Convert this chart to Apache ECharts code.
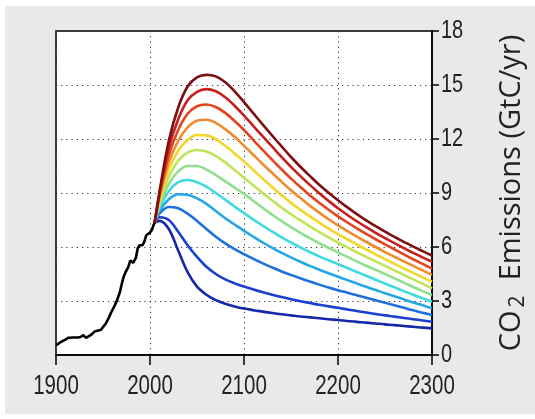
<!DOCTYPE html>
<html>
<head>
<meta charset="utf-8">
<script src="https://cdn.jsdelivr.net/npm/echarts@6/dist/echarts.min.js"></script>
<style>
html,body{margin:0;padding:0;background:#ffffff;width:535px;height:419px;overflow:hidden;}
#chart{position:absolute;left:5px;top:6px;width:530px;height:408px;}
</style>
</head>
<body>
<div id="chart"></div>
<script>
// Historical emissions
const histYears = [1900,1903,1906,1910,1913,1915,1918,1920,1923,1926,1929,1932,1935,1938,1941,1944,1946,1948,1950,1953,1956,1959,1962,1965,1968,1970,1972,1974,1975,1977,1979,1980,1982,1983,1985,1987,1989,1990,1992,1994,1996,1998,2000,2002,2004,2005];
const histValues = [0.55,0.65,0.75,0.85,0.95,0.88,0.97,0.92,0.97,1.0,1.1,0.95,1.05,1.15,1.3,1.35,1.25,1.4,1.55,1.75,2.05,2.4,2.7,3.05,3.5,3.95,4.35,4.6,4.55,4.9,5.25,5.28,5.12,5.15,5.4,5.95,6.1,6.15,6.1,6.3,6.65,6.7,6.8,6.95,7.25,7.35];

// Scenario pathways (2005, then every decade 2010-2300)
const scenYears = [2005,2010,2020,2030,2040,2050,2060,2070,2080,2090,2100,2110,2120,2130,2140,2150,2160,2170,2180,2190,2200,2210,2220,2230,2240,2250,2260,2270,2280,2290,2300];
const scen01 = [7.35,7.45,7.0,5.8,4.6,3.8,3.35,3.05,2.85,2.7,2.58,2.49,2.41,2.33,2.26,2.2,2.14,2.09,2.04,1.99,1.94,1.89,1.84,1.8,1.75,1.7,1.66,1.61,1.57,1.52,1.48];
const scen02 = [7.35,7.65,7.5,6.85,6.1,5.45,4.9,4.5,4.2,3.98,3.8,3.64,3.49,3.35,3.22,3.1,2.99,2.89,2.79,2.7,2.62,2.53,2.44,2.36,2.28,2.2,2.13,2.06,1.99,1.92,1.85];
const scen03 = [7.35,7.85,8.22,8.15,7.85,7.45,7.0,6.57,6.2,5.88,5.6,5.34,5.09,4.86,4.64,4.45,4.26,4.08,3.91,3.75,3.6,3.46,3.32,3.18,3.04,2.9,2.76,2.62,2.48,2.35,2.22];
const scen04 = [7.35,8.0,8.65,8.93,8.9,8.7,8.4,8.0,7.6,7.25,6.9,6.57,6.25,5.95,5.67,5.42,5.18,4.95,4.74,4.54,4.35,4.16,3.97,3.79,3.61,3.43,3.26,3.09,2.92,2.76,2.6];
const scen05 = [7.35,8.15,9.1,9.6,9.72,9.6,9.35,9.0,8.63,8.25,7.88,7.53,7.18,6.85,6.54,6.25,5.98,5.72,5.48,5.26,5.05,4.83,4.61,4.4,4.18,3.97,3.76,3.55,3.35,3.15,2.96];
const scen06 = [7.35,8.3,9.5,10.2,10.5,10.5,10.3,10.0,9.65,9.3,8.95,8.56,8.17,7.8,7.44,7.1,6.79,6.49,6.21,5.95,5.7,5.45,5.2,4.96,4.73,4.5,4.26,4.02,3.78,3.55,3.33];
const scen07 = [7.35,8.45,9.9,10.8,11.25,11.39,11.3,11.05,10.7,10.28,9.85,9.42,8.99,8.58,8.19,7.82,7.48,7.15,6.84,6.54,6.25,5.98,5.71,5.45,5.2,4.95,4.7,4.45,4.2,3.95,3.7];
const scen08 = [7.35,8.6,10.3,11.35,11.95,12.22,12.2,12.0,11.62,11.2,10.75,10.27,9.79,9.33,8.88,8.45,8.07,7.7,7.35,7.02,6.72,6.43,6.14,5.86,5.59,5.33,5.07,4.81,4.56,4.31,4.07];
const scen09 = [7.35,8.75,10.7,11.9,12.65,13.02,13.07,12.9,12.55,12.12,11.62,11.11,10.6,10.11,9.62,9.15,8.72,8.3,7.91,7.54,7.2,6.88,6.57,6.28,6.0,5.72,5.46,5.2,4.95,4.7,4.45];
const scen10 = [7.35,8.85,11.1,12.5,13.4,13.82,13.92,13.78,13.45,13.0,12.5,11.94,11.38,10.84,10.31,9.8,9.33,8.88,8.46,8.07,7.7,7.36,7.04,6.73,6.43,6.15,5.87,5.59,5.32,5.06,4.8];
const scen11 = [7.35,8.95,11.5,13.1,14.15,14.62,14.77,14.65,14.32,13.85,13.3,12.72,12.14,11.57,11.0,10.45,9.94,9.45,8.99,8.56,8.15,7.78,7.43,7.1,6.79,6.5,6.22,5.94,5.67,5.42,5.18];
const scen12 = [7.35,9.05,11.9,13.75,14.92,15.42,15.56,15.48,15.15,14.65,14.05,13.42,12.8,12.19,11.59,11.0,10.46,9.95,9.46,9.02,8.6,8.2,7.83,7.48,7.16,6.85,6.56,6.29,6.02,5.77,5.53];

const xTicks = [1900,2000,2100,2200,2300];
const yTicks = [0,3,6,9,12,15,18];

const scenarios = [scen01,scen02,scen03,scen04,scen05,scen06,scen07,scen08,scen09,scen10,scen11,scen12];
const colors = ['#1428a8','#1a3fd1','#1f6fdc','#22a8e6','#3fd9e0','#8ee08a','#c1e35a','#f2d62a','#f08a2c','#e5431d','#c81e1e','#7a1010'];

const series = scenarios.map((vals, i) => ({
  type: 'line',
  data: scenYears.map((y, j) => [y, vals[j]]),
  smooth: 0.35,
  showSymbol: false,
  symbol: 'none',
  lineStyle: { color: colors[i], width: 2.6 },
  z: 3
}));
series.push({
  type: 'line',
  data: histYears.map((y, j) => [y, histValues[j]]),
  showSymbol: false,
  symbol: 'none',
  lineStyle: { color: '#000000', width: 2.6 },
  z: 4
});

const tickFont = "'Liberation Sans', Arial, sans-serif";
const titleFont = "'Open Sans','Noto Sans',sans-serif";

const chart = echarts.init(document.getElementById('chart'), null, { renderer: 'canvas' });
chart.setOption({
  backgroundColor: '#e9e9e9',
  animation: false,
  grid: {
    left: 51, right: 103, top: 25, bottom: 59,
    containLabel: false, outerBoundsMode: 'none',
    show: true, backgroundColor: '#ffffff', borderColor: '#000000', borderWidth: 1.5
  },
  xAxis: {
    type: 'value', min: xTicks[0], max: xTicks[xTicks.length - 1], interval: 100,
    axisLine: { show: true, lineStyle: { color: '#000', width: 1.5 } },
    axisTick: { show: true, inside: false, length: 10, lineStyle: { color: '#000', width: 1.5 } },
    axisLabel: { show: false },
    splitLine: { show: true, lineStyle: { color: '#333', width: 1, type: [1.2, 4] } }
  },
  yAxis: {
    type: 'value', position: 'right', min: yTicks[0], max: yTicks[yTicks.length - 1], interval: 3,
    axisLine: { show: true, lineStyle: { color: '#000', width: 1.5 } },
    axisTick: { show: true, inside: false, length: 7, lineStyle: { color: '#000', width: 1.5 } },
    axisLabel: { show: false },
    splitLine: { show: true, lineStyle: { color: '#333', width: 1, type: [1.2, 4] } },
    name: '{a|CO}{b|2}{a|  Emissions (GtC/yr)}',
    nameLocation: 'middle',
    nameRotate: 90,
    nameGap: 63,
    nameTextStyle: {
      rich: {
        a: { fontSize: 29, fontFamily: titleFont, color: '#222' },
        b: { fontSize: 21, fontFamily: titleFont, color: '#222', padding: [13, 0, 0, 3] }
      }
    }
  },
  series: series
});

// Tick labels, placed through the axes' own scales, drawn condensed like the original
const graphics = [];
const yZero = chart.convertToPixel({ yAxisIndex: 0 }, yTicks[0]);
xTicks.forEach(t => {
  const px = chart.convertToPixel({ xAxisIndex: 0 }, t);
  graphics.push({
    type: 'text', x: px, y: yZero + 32, scaleX: 0.76, silent: true,
    style: { text: String(t), font: "27px " + tickFont, fill: '#222', align: 'center', verticalAlign: 'middle' }
  });
});
const xRight = chart.convertToPixel({ xAxisIndex: 0 }, xTicks[xTicks.length - 1]);
yTicks.forEach(t => {
  const py = chart.convertToPixel({ yAxisIndex: 0 }, t);
  graphics.push({
    type: 'text', x: xRight + 9, y: py, scaleX: 0.8, silent: true,
    style: { text: String(t), font: "25px " + tickFont, fill: '#222', align: 'left', verticalAlign: 'middle' }
  });
});
chart.setOption({ graphic: graphics });
</script>
</body>
</html>
